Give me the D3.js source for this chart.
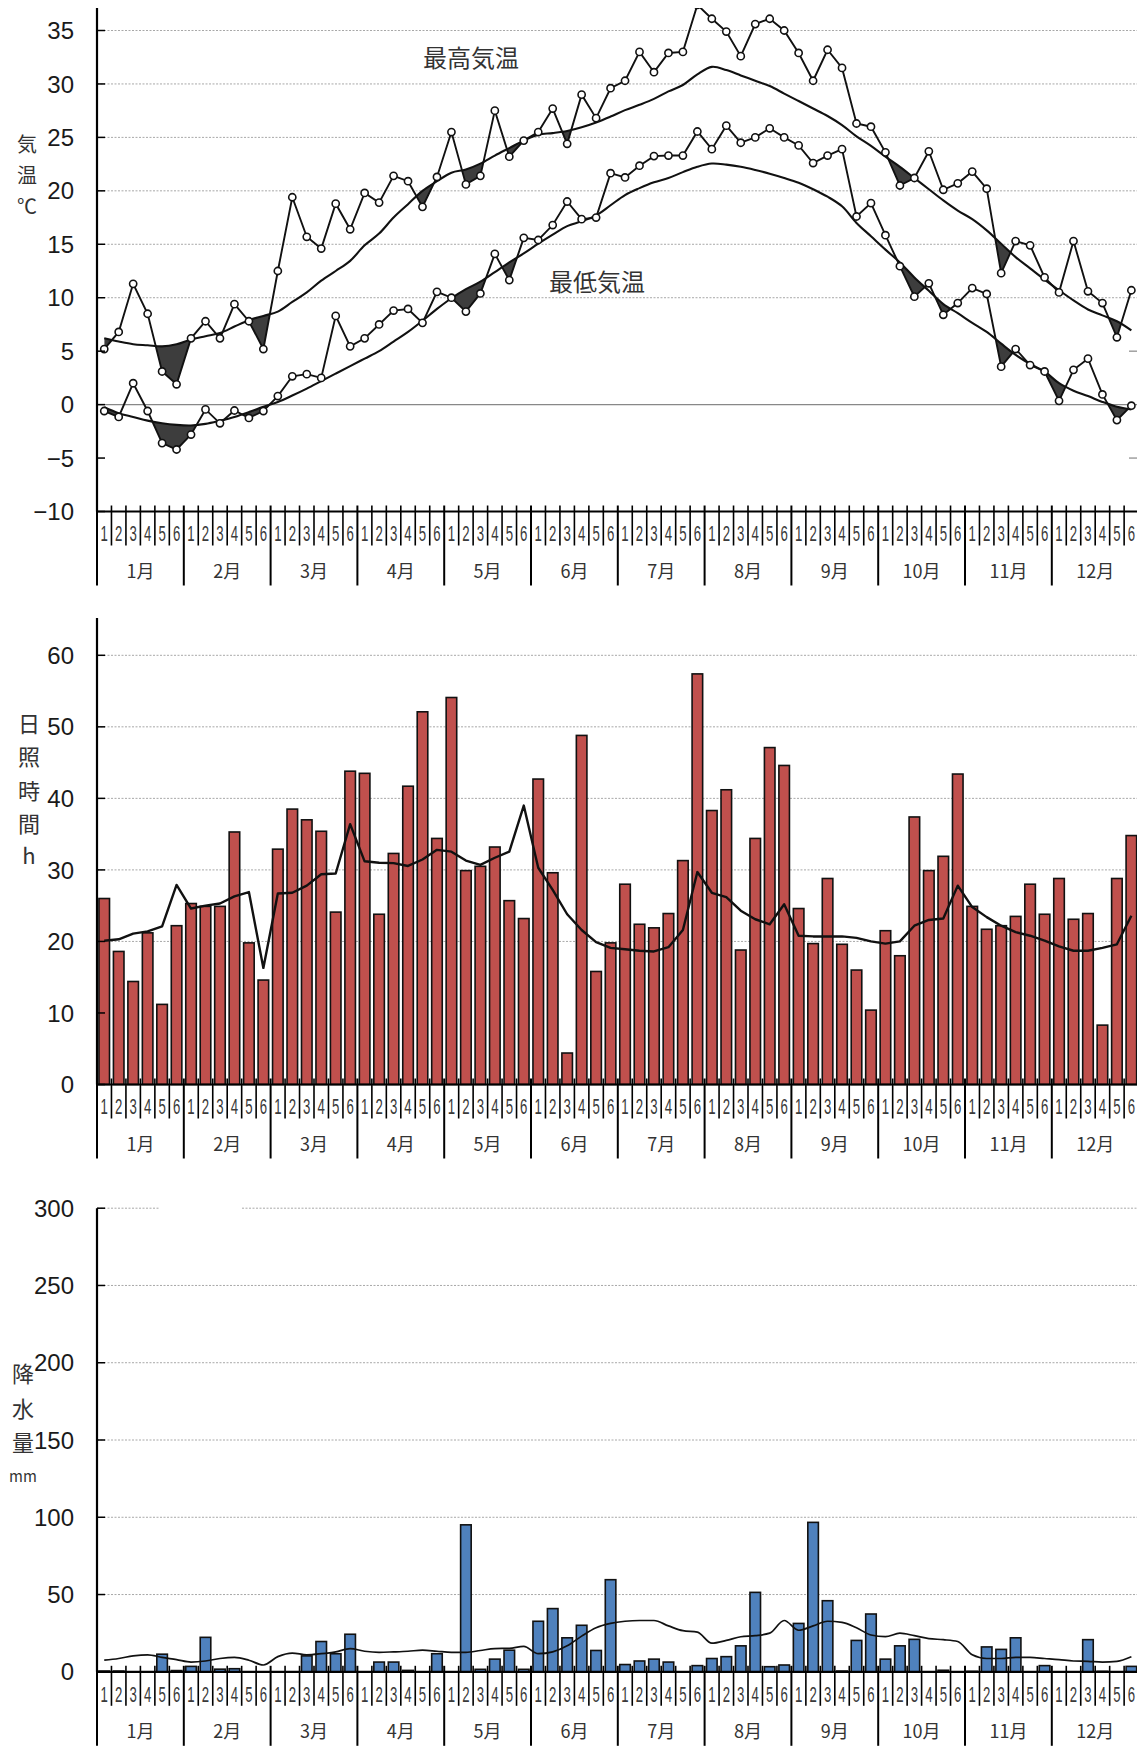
<!DOCTYPE html>
<html><head><meta charset="utf-8">
<script src="https://cdn.jsdelivr.net/npm/d3@7"></script>
<style>
html,body{margin:0;padding:0;background:#fff;}
svg{display:block;}
</style></head><body>
<svg id="c" width="1137" height="1746"></svg>
<script>
// ---------- data ----------
const months = ["1月","2月","3月","4月","5月","6月","7月","8月","9月","10月","11月","12月"];
const pentads = ["1","2","3","4","5","6"];
const tempTicks = [35,30,25,20,15,10,5,0,-5,-10];
const sunTicks = [60,50,40,30,20,10,0];
const precTicks = [300,250,200,150,100,50,0];

const maxTemp = [5.2,6.8,11.3,8.5,3.1,1.9, 6.2,7.8,6.2,9.4,7.8,5.2, 12.5,19.4,15.7,14.6,18.8,16.4,
  19.8,18.9,21.4,20.9,18.5,21.3, 25.5,20.6,21.4,27.5,23.2,24.7, 25.5,27.7,24.4,29.0,26.8,29.6,
  30.3,33.0,31.1,32.9,33.0,37.4, 36.1,34.9,32.6,35.6,36.1,35.0, 32.9,30.3,33.2,31.5,26.3,26.0,
  23.6,20.5,21.2,23.7,20.1,20.7, 21.8,20.2,12.3,15.3,14.9,11.9, 10.5,15.3,10.6,9.5,6.3,10.7];
const maxNormal = [6.2,5.9,5.65,5.55,5.45,5.65, 6.1,6.4,6.7,7.3,7.9,8.3, 8.7,9.6,10.5,11.6,12.5,13.45,
  14.9,16.0,17.5,18.75,20.0,20.9, 21.7,22.0,22.55,23.3,24.0,24.7, 25.25,25.4,25.6,25.95,26.4,26.95,
  27.55,28.05,28.6,29.3,29.9,30.9, 31.6,31.3,30.8,30.3,29.8,29.1, 28.4,27.7,27.0,26.15,25.1,24.2,
  23.2,22.25,21.2,20.15,19.1,18.15, 17.35,16.3,15.05,13.8,12.75,11.7, 10.7,9.75,8.9,8.35,7.8,6.95];
const minTemp = [-0.6,-1.15,2.0,-0.6,-3.6,-4.2, -2.8,-0.45,-1.75,-0.55,-1.25,-0.6, 0.8,2.65,2.85,2.5,8.3,5.45,
  6.2,7.5,8.8,8.95,7.65,10.55, 10.0,8.7,10.4,14.1,11.65,15.6, 15.4,16.8,19.0,17.35,17.5,21.65,
  21.25,22.35,23.25,23.3,23.3,25.55, 23.9,26.1,24.5,25.0,25.85,25.0, 24.25,22.6,23.3,23.9,17.6,18.85,
  15.85,12.95,10.1,11.35,8.4,9.5, 10.9,10.35,3.55,5.2,3.7,3.1, 0.35,3.25,4.3,0.95,-1.45,-0.1];
const minNormal = [-0.25,-0.8,-1.15,-1.5,-1.75,-1.9, -1.95,-1.8,-1.5,-1.15,-0.7,-0.2, 0.25,0.85,1.5,2.2,2.9,3.6,
  4.3,5.0,5.9,6.8,7.85,8.95, 9.95,10.8,11.5,12.4,13.3,14.15, 15.05,15.9,16.7,17.15,17.7,18.65,
  19.6,20.25,20.8,21.2,21.75,22.25, 22.55,22.45,22.25,21.95,21.6,21.2, 20.75,20.15,19.45,18.55,17.0,15.75,
  14.5,13.3,11.9,10.65,9.4,8.55, 7.65,6.8,5.7,4.65,3.8,3.1, 2.0,1.3,0.8,0.25,-0.2,-0.45];

const sunshine = [26.0,18.6,14.4,21.2,11.2,22.2, 25.3,24.9,24.9,35.3,19.8,14.6, 32.9,38.5,37.0,35.4,24.1,43.8,
  43.5,23.8,32.3,41.7,52.1,34.4, 54.1,29.9,30.5,33.2,25.7,23.2, 42.7,29.6,4.4,48.8,15.8,19.8,
  28.0,22.4,21.9,23.9,31.3,57.4, 38.3,41.2,18.8,34.4,47.1,44.6, 24.6,19.7,28.8,19.6,16.0,10.4,
  21.5,18.0,37.4,29.9,31.9,43.4, 24.9,21.7,22.2,23.5,28.0,23.8, 28.8,23.1,23.9,8.3,28.8,34.8];
const sunNormal = [20.1,20.3,21.1,21.4,22.1,27.9, 24.6,25.0,25.3,26.3,26.9,16.3, 26.7,26.8,27.8,29.4,29.5,36.4,
  31.2,31.0,30.95,30.55,31.45,32.8, 32.55,31.3,30.7,31.7,32.55,39.0, 30.3,27.2,23.8,21.6,19.9,19.1,
  18.9,18.7,18.6,19.2,21.6,29.7, 26.8,26.2,24.3,23.1,22.4,25.2, 20.8,20.7,20.7,20.7,20.5,20.0,
  19.7,20.0,22.2,23.0,23.2,27.8, 24.8,23.4,22.2,21.3,20.8,20.1, 19.3,18.7,18.7,19.1,19.6,23.6];

const precip = [0.5,0.5,0,0,11.4,0.8, 3.5,22.3,1.7,2.0,0,0, 0,0,10.3,19.6,11.7,24.3,
  0,6.3,6.3,0.9,0,11.7, 0,95.1,1.6,8.2,14.0,1.6, 32.7,40.9,22.0,30.1,13.8,59.6,
  4.7,7.0,8.2,6.3,0,4.0, 8.6,9.8,16.8,51.4,3.3,4.4, 31.3,96.7,46.0,0.5,20.3,37.4,
  8.2,16.8,21.0,0,1.0,0, 0.3,16.1,14.5,22.0,0,4.0, 0,0,20.8,0.3,0,3.5];
const precNormal = [7.5,8.6,10.3,11.0,9.3,7.9, 6.3,7.0,8.6,9.3,7.5,4.4, 9.8,12.1,11.0,11.7,12.9,15.0,
  13.3,12.6,12.9,13.3,14.0,13.3, 12.6,12.6,13.8,15.0,15.2,16.4, 11.7,12.9,16.8,23.1,28.5,31.3,
  32.7,33.2,33.2,29.7,26.6,25.7, 18.5,20.3,22.7,23.4,25.0,33.2, 26.9,29.7,32.7,32.0,28.5,23.8,
  22.7,25.0,23.4,21.5,20.8,19.6, 11.0,8.6,8.6,9.3,9.3,8.6, 7.9,7.0,6.8,6.3,6.8,9.8];

// ---------- layout ----------
const svg = d3.select("#c");
const defs = svg.append("defs");
const X0 = 97, X1 = 97 + 12 * 86.8;
const x = d3.scaleBand().domain(d3.range(72)).range([X0, X1]).paddingInner(0.27).paddingOuter(0.135);
const cx = i => x(i) + x.bandwidth() / 2;
const monthScale = d3.scaleBand().domain(months).range([X0, X1]);
const NUMF = "'Liberation Sans', Arial, sans-serif";
const JF = "'Noto Sans CJK JP', 'Noto Sans CJK SC', sans-serif";

const yT = d3.scaleLinear().domain([-10, 35]).range([511.5, 30.5]);
const yS = d3.scaleLinear().domain([0, 60]).range([1084.5, 655.3]);
const yP = d3.scaleLinear().domain([0, 300]).range([1671.8, 1208.2]);

function grid(g, y, vals, opts = {}) {
  vals.forEach(v => {
    const segs = (opts.gaps && opts.gaps[v]) || [[X0, 1137]];
    segs.forEach(s => g.append("line")
      .attr("x1", s[0]).attr("x2", s[1]).attr("y1", y(v)).attr("y2", y(v))
      .attr("stroke", "#a8a8a8").attr("stroke-width", 1).attr("stroke-dasharray", "2,1.5"));
  });
}

function leftAxis(g, y, ticks, topY) {
  g.append("line").attr("x1", X0).attr("x2", X0).attr("y1", topY).attr("y2", y(ticks[ticks.length - 1]))
    .attr("stroke", "#000").attr("stroke-width", 2.2);
  ticks.forEach(t => {
    g.append("line").attr("x1", X0).attr("x2", X0 + 8).attr("y1", y(t)).attr("y2", y(t))
      .attr("stroke", "#000").attr("stroke-width", 1.5);
    g.append("text").attr("x", 74).attr("y", y(t)).attr("dy", "0.36em")
      .attr("text-anchor", "end").attr("font-family", NUMF).attr("font-size", 24)
      .attr("fill", "#1a1a1a").text(d3.format("")(t));
  });
}

function bottomAxis(g, yb) {
  g.append("line").attr("x1", X0).attr("x2", 1137).attr("y1", yb).attr("y2", yb)
    .attr("stroke", "#000").attr("stroke-width", 2.2);
  const step = x.step();
  d3.range(73).forEach(b => {
    const bx = X0 + b * step;
    const isMonth = b % 6 === 0;
    g.append("line").attr("x1", bx).attr("x2", bx).attr("y1", yb - 6).attr("y2", yb + (isMonth ? 74 : 34))
      .attr("stroke", "#000").attr("stroke-width", isMonth ? 2 : 1.6);
  });
  d3.range(72).forEach(i => {
    g.append("text").attr("transform", `translate(${cx(i)},${yb + 22}) scale(0.6,1)`)
      .attr("dy", "0.36em").attr("text-anchor", "middle").attr("font-family", NUMF)
      .attr("font-size", 22).attr("fill", "#3a3a3a").text(pentads[i % 6]);
  });
  months.forEach(m => {
    g.append("text").attr("x", monthScale(m) + monthScale.bandwidth() / 2).attr("y", yb + 60)
      .attr("dy", "0.36em").attr("text-anchor", "middle").attr("font-family", JF)
      .attr("font-size", 18).attr("fill", "#333").text(m);
  });
}

function vTitle(g, chars, xpos, ys, sizes) {
  chars.forEach((c, k) => g.append("text").attr("x", xpos).attr("y", ys[k]).attr("dy", "0.36em")
    .attr("text-anchor", "middle").attr("font-family", JF).attr("font-size", sizes[k])
    .attr("fill", "#333").text(c));
}

// ---------- temperature chart ----------
const gT = svg.append("g");
const tTop = 8;
grid(gT, yT, [35, 30, 25, 20, 15, 10]);
gT.append("line").attr("x1", X0).attr("x2", 1137).attr("y1", yT(0)).attr("y2", yT(0))
  .attr("stroke", "#888").attr("stroke-width", 1.2);
[5, -5].forEach(v => gT.append("line").attr("x1", 1129).attr("x2", 1137).attr("y1", yT(v)).attr("y2", yT(v))
  .attr("stroke", "#888").attr("stroke-width", 1.2));

defs.append("clipPath").attr("id", "tplot").append("rect")
  .attr("x", X0).attr("y", tTop).attr("width", 1137 - X0).attr("height", yT(-10) - tTop);

const smooth = d3.curveCatmullRom.alpha(0.5);
function shade(actual, normal, id) {
  const belowNormal = d3.area().x((d, i) => cx(i)).y0(yT(-10)).y1(d => yT(d)).curve(smooth);
  defs.append("clipPath").attr("id", id).append("path").attr("d", belowNormal(normal));
  const aboveActual = d3.area().x((d, i) => cx(i)).y0(0).y1(d => yT(d));
  gT.append("path").attr("d", aboveActual(actual)).attr("fill", "#3d3d3d")
    .attr("clip-path", `url(#${id})`);
}
shade(maxTemp, maxNormal, "cmax");
shade(minTemp, minNormal, "cmin");

const normLine = d3.line().x((d, i) => cx(i)).y(d => yT(d)).curve(smooth);
[maxNormal, minNormal].forEach(arr => gT.append("path").attr("d", normLine(arr))
  .attr("fill", "none").attr("stroke", "#111").attr("stroke-width", 2.1));

const actLine = d3.line().x((d, i) => cx(i)).y(d => yT(d));
const pg = gT.append("g").attr("clip-path", "url(#tplot)");
[maxTemp, minTemp].forEach(arr => {
  pg.append("path").attr("d", actLine(arr)).attr("fill", "none")
    .attr("stroke", "#111").attr("stroke-width", 1.9);
  pg.selectAll(null).data(arr).join("circle")
    .attr("cx", (d, i) => cx(i)).attr("cy", d => yT(d)).attr("r", 3.6)
    .attr("fill", "#fff").attr("stroke", "#111").attr("stroke-width", 1.6);
});

gT.append("text").attr("x", 471).attr("y", 58).attr("dy", "0.36em").attr("text-anchor", "middle")
  .attr("font-family", JF).attr("font-size", 24).attr("fill", "#333").text("最高気温");
gT.append("text").attr("x", 597).attr("y", 282).attr("dy", "0.36em").attr("text-anchor", "middle")
  .attr("font-family", JF).attr("font-size", 24).attr("fill", "#333").text("最低気温");

leftAxis(gT, yT, tempTicks, tTop);
bottomAxis(gT, yT(-10));
vTitle(gT, ["気", "温", "℃"], 27, [145, 176, 207], [20, 20, 20]);

// ---------- sunshine chart ----------
const gS = svg.append("g");
grid(gS, yS, [60, 50, 40, 30, 20]);
gS.selectAll(null).data(sunshine).join("rect")
  .attr("x", (d, i) => x(i)).attr("width", x.bandwidth())
  .attr("y", d => yS(d)).attr("height", d => yS(0) - yS(d))
  .attr("fill", "#c0504d").attr("stroke", "#111").attr("stroke-width", 1.6);
gS.append("path").attr("d", d3.line().x((d, i) => cx(i)).y(d => yS(d))(sunNormal))
  .attr("fill", "none").attr("stroke", "#111").attr("stroke-width", 2.4).attr("stroke-linejoin", "round");
leftAxis(gS, yS, sunTicks, yS(65.2));
bottomAxis(gS, yS(0));
vTitle(gS, ["日", "照", "時", "間", "h"], 29, [724, 757, 791, 824, 856], [22, 22, 22, 22, 22]);

// ---------- precipitation chart ----------
const gP = svg.append("g");
grid(gP, yP, [300, 250, 200, 150, 100, 50], { gaps: { 300: [[X0, 160], [242, 1137]] } });
gP.selectAll(null).data(precip.map((v, i) => ({ v, i })).filter(d => d.v > 0)).join("rect")
  .attr("x", d => x(d.i)).attr("width", x.bandwidth())
  .attr("y", d => yP(d.v)).attr("height", d => yP(0) - yP(d.v))
  .attr("fill", "#4f81bd").attr("stroke", "#111").attr("stroke-width", 1.6);
gP.append("path").attr("d", d3.line().x((d, i) => cx(i)).y(d => yP(d)).curve(d3.curveMonotoneX)(precNormal))
  .attr("fill", "none").attr("stroke", "#111").attr("stroke-width", 1.7);
leftAxis(gP, yP, precTicks, yP(300));
bottomAxis(gP, yP(0));
vTitle(gP, ["降", "水", "量", "mm"], 23, [1374, 1409, 1443, 1477], [22, 22, 22, 15]);
</script>
</body></html>
